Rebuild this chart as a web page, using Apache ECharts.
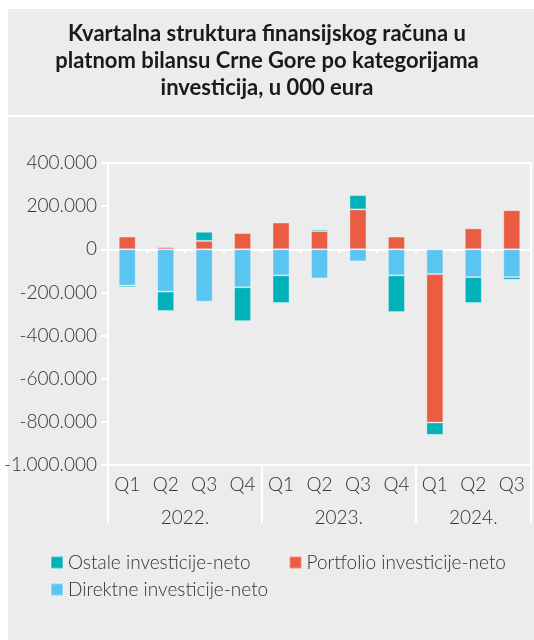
<!DOCTYPE html>
<html>
<head>
<meta charset="utf-8">
<script src="https://cdn.jsdelivr.net/npm/echarts@6/dist/echarts.min.js"></script>
<style>
  html, body { margin: 0; padding: 0; background: #ffffff; }
  #chart { width: 534px; height: 640px; }
</style>
</head>
<body>
<div id="chart"></div>
<script>
// kvartali i godine
const quarters = ['Q1', 'Q2', 'Q3', 'Q4', 'Q1', 'Q2', 'Q3', 'Q4', 'Q1', 'Q2', 'Q3'];
const years = ['2022.', '2023.', '2024.'];
const quartersPerYear = [4, 4, 3];

// vrijednosti u 000 eura
const direktne = [-168000, -196000, -243000, -176000, -121000, -135000, -56000, -121000, -115000, -129000, -129000];
const portfolio = [59000, 10000, 39000, 75000, 124000, 84000, 185000, 59000, -688000, 97000, 181000];
const ostale = [-8000, -90000, 42000, -157000, -128000, 8000, 66000, -170000, -57000, -120000, -12000];

const yTicks = { min: -1000000, max: 400000, step: 200000 };

const FONT = 'Lato';
const TXT = '#333333';

// oznake godina na pola kategorija (boundaryGap false -> 2n+1 pozicija)
const yearSlots = new Array(quarters.length * 2 + 1).fill('');
let start = 0;
years.forEach((y, i) => {
  yearSlots[Math.round((start + quartersPerYear[i] / 2) * 2)] = y;
  start += quartersPerYear[i];
});

function fmt(v) {
  const s = String(Math.abs(v)).replace(/\B(?=(\d{3})+(?!\d))/g, '.');
  return (v < 0 ? '-' : '') + s;
}

const chart = echarts.init(document.getElementById('chart'));

const barBase = {
  type: 'bar',
  stack: 'total',
  barWidth: 17,
  xAxisIndex: 0,
  yAxisIndex: 0
};

const legendText = { fontFamily: FONT, fontWeight: 300, fontSize: 19, color: TXT };

const option = {
  backgroundColor: '#ffffff',
  animation: false,
  graphic: [
    { type: 'rect', z: -10, shape: { x: 8, y: 9, width: 526, height: 106 }, style: { fill: '#ececec' } },
    { type: 'rect', z: -10, shape: { x: 8, y: 117, width: 526, height: 523 }, style: { fill: '#ececec' } }
  ],
  title: {
    text: 'Kvartalna struktura finansijskog računa u\nplatnom bilansu Crne Gore po kategorijama\ninvesticija, u 000 eura',
    left: 'center',
    top: 15,
    textStyle: {
      fontFamily: FONT,
      fontWeight: 'bold',
      fontSize: 22,
      lineHeight: 27,
      color: '#1a1a1a'
    }
  },
  legend: [
    {
      data: ['Ostale investicije-neto', 'Portfolio investicije-neto'],
      left: 45,
      top: 548,
      icon: 'rect',
      itemWidth: 12,
      itemHeight: 12,
      itemGap: 38,
      textStyle: legendText
    },
    {
      data: ['Direktne investicije-neto'],
      left: 45,
      top: 575,
      icon: 'rect',
      itemWidth: 12,
      itemHeight: 12,
      textStyle: legendText
    }
  ],
  grid: { left: 108, right: 3, top: 163, bottom: 175, containLabel: false },
  xAxis: [
    {
      // linija na nuli, podjele između kategorija
      type: 'category',
      data: quarters,
      position: 'bottom',
      axisLine: { onZero: true, onZeroAxisIndex: 0, lineStyle: { color: '#ffffff', width: 2 } },
      axisTick: { show: true, interval: 0, length: 4, lineStyle: { color: '#ffffff', width: 2 } },
      axisLabel: { show: false }
    },
    {
      // oznake u sredini kategorija
      type: 'category',
      data: quarters,
      position: 'bottom',
      axisLine: { onZero: true, onZeroAxisIndex: 1, lineStyle: { color: '#ffffff', width: 2 } },
      axisTick: { show: true, interval: 0, alignWithLabel: true, length: 4, lineStyle: { color: '#ffffff', width: 2 } },
      axisLabel: { show: false }
    },
    {
      // kvartali na dnu
      type: 'category',
      data: quarters,
      position: 'bottom',
      axisLine: { onZero: false, lineStyle: { color: '#ffffff', width: 2 } },
      axisTick: {
        show: true,
        interval: (i) => i % 4 === 0,
        length: 58,
        lineStyle: { color: '#ffffff', width: 2 }
      },
      axisLabel: { interval: 0, margin: 10, fontFamily: FONT, fontWeight: 300, fontSize: 19, color: TXT }
    },
    {
      // godine
      type: 'category',
      data: yearSlots,
      boundaryGap: false,
      position: 'bottom',
      offset: 33,
      axisLine: { show: false, onZero: false },
      axisTick: { show: false },
      axisLabel: { interval: 0, margin: 10, fontFamily: FONT, fontWeight: 300, fontSize: 19, color: TXT }
    },
    {
      // gornja ivica
      type: 'category',
      data: quarters,
      position: 'top',
      axisLine: { onZero: false, lineStyle: { color: '#ffffff', width: 2 } },
      axisTick: { show: false },
      axisLabel: { show: false }
    }
  ],
  yAxis: [
    {
      type: 'value',
      min: yTicks.min,
      max: yTicks.max,
      interval: yTicks.step,
      position: 'left',
      axisLine: { show: true, lineStyle: { color: '#ffffff', width: 2 } },
      axisTick: { show: true, length: 7, lineStyle: { color: '#ffffff', width: 2 } },
      splitLine: { show: false },
      axisLabel: { margin: 11, formatter: fmt, fontFamily: FONT, fontWeight: 300, fontSize: 19, color: TXT }
    },
    {
      type: 'value',
      min: yTicks.min,
      max: yTicks.max,
      interval: yTicks.step,
      position: 'right',
      axisLine: { show: true, lineStyle: { color: '#ffffff', width: 2 } },
      axisTick: { show: false },
      splitLine: { show: false },
      axisLabel: { show: false }
    }
  ],
  series: [
    Object.assign({}, barBase, {
      name: 'Direktne investicije-neto',
      data: direktne,
      itemStyle: { color: '#5bc5f2', borderColor: 'rgba(255,255,255,0.3)', borderWidth: 1 }
    }),
    Object.assign({}, barBase, {
      name: 'Portfolio investicije-neto',
      data: portfolio,
      itemStyle: { color: '#ea5d42', borderColor: 'rgba(255,255,255,0.3)', borderWidth: 1 }
    }),
    Object.assign({}, barBase, {
      name: 'Ostale investicije-neto',
      data: ostale,
      itemStyle: { color: '#00b1b8', borderColor: 'rgba(255,255,255,0.3)', borderWidth: 1 }
    })
  ]
};

chart.setOption(option);
</script>
</body>
</html>
